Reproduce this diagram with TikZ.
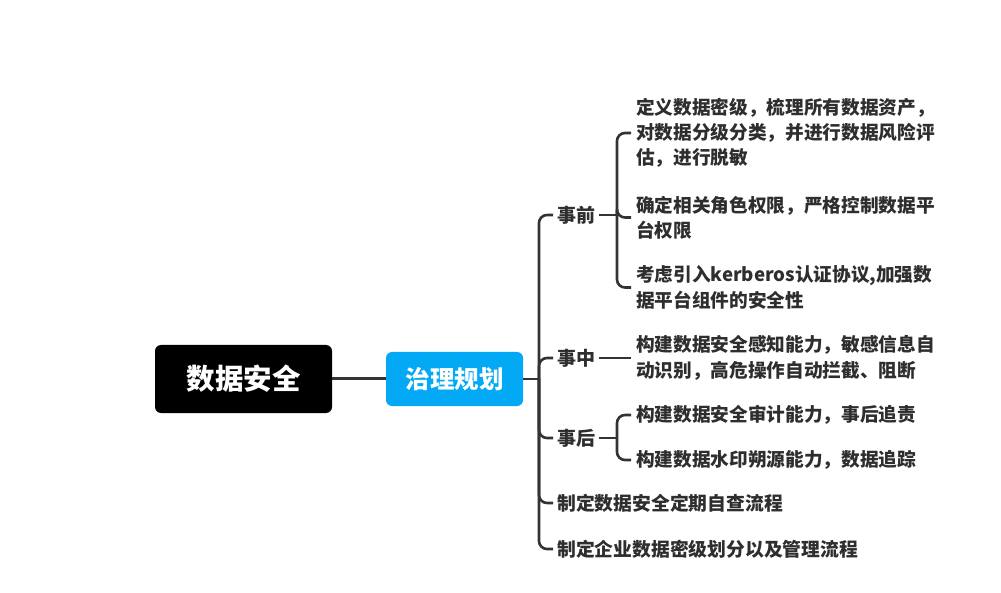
\documentclass[tikz,border=0pt]{standalone}
\usepackage{fontspec}
\setmainfont{Noto Sans CJK SC}
\newfontfamily\cjk{Noto Sans CJK SC}
\definecolor{linec}{HTML}{333333}
\definecolor{textc}{HTML}{2E2E2E}
\definecolor{bluec}{HTML}{03A9F4}
\tikzset{
  conn/.style={draw=linec, line width=2.6pt, rounded corners=8pt},
  rootbox/.style={fill=black, rounded corners=6pt, minimum width=177pt, minimum height=68pt, text=white, font=\cjk\bfseries\fontsize{28.5}{30}\selectfont},
  mainbox/.style={fill=bluec, rounded corners=6pt, minimum width=137pt, minimum height=54pt, text=white, font=\cjk\bfseries\fontsize{24.5}{26}\selectfont},
  branch/.style={anchor=west, inner xsep=4pt, inner ysep=2pt, text=textc, font=\cjk\bfseries\fontsize{19}{25}\selectfont},
  leaf/.style={anchor=west, inner xsep=5pt, inner ysep=0pt, align=left, text=textc, font=\cjk\bfseries\fontsize{18.67}{25.3}\selectfont},
}
\begin{document}
\begin{tikzpicture}[x=1pt, y=-1pt]
\useasboundingbox (0,0) rectangle (1001,593);
\node[rootbox] (root) at (243.5,379) {数据安全};
\node[mainbox] (main) at (454.5,379) {治理规划};
\coordinate (t) at (539,379);
\node[branch] (b1) at (553,215) {事前};
\node[branch] (b2) at (553,358) {事中};
\node[branch] (b3) at (553,438) {事后};
\node[branch, font=\cjk\bfseries\fontsize{18.8}{25}\selectfont] (b4) at (553,503) {制定数据安全定期自查流程};
\node[branch, font=\cjk\bfseries\fontsize{18.8}{25}\selectfont] (b5) at (553,549) {制定企业数据密级划分以及管理流程};
\coordinate (s1) at (617,215);
\coordinate (s3) at (617,438);
\node[leaf] (l1) at (631,133) {定义数据密级，梳理所有数据资产，\\对数据分级分类，并进行数据风险评\\估，进行脱敏};
\node[leaf] (l2) at (631,217.5) {确定相关角色权限，严格控制数据平\\台权限};
\node[leaf] (l3) at (631,287.5) {考虑引入kerberos认证协议,加强数\\据平台组件的安全性};
\node[leaf] (l4) at (631,358) {构建数据安全感知能力，敏感信息自\\动识别，高危操作自动拦截、阻断};
\node[leaf] (l5) at (631,415) {构建数据安全审计能力，事后追责};
\node[leaf] (l6) at (631,460) {构建数据水印朔源能力，数据追踪};
\draw[conn, line width=3pt] (root.east) -- (main.west);
\draw[conn] (main.east) -- (t);
\foreach \b in {b1,b2,b3,b4,b5} { \draw[conn] (t) |- (\b.west); }
\draw[conn] (b1.east) -- (s1);
\foreach \l in {l1,l2,l3} { \draw[conn] (s1) |- (\l.west); }
\draw[conn] (b2.east) -- (l4.west);
\draw[conn] (b3.east) -- (s3);
\foreach \l in {l5,l6} { \draw[conn] (s3) |- (\l.west); }
\end{tikzpicture}
\end{document}
